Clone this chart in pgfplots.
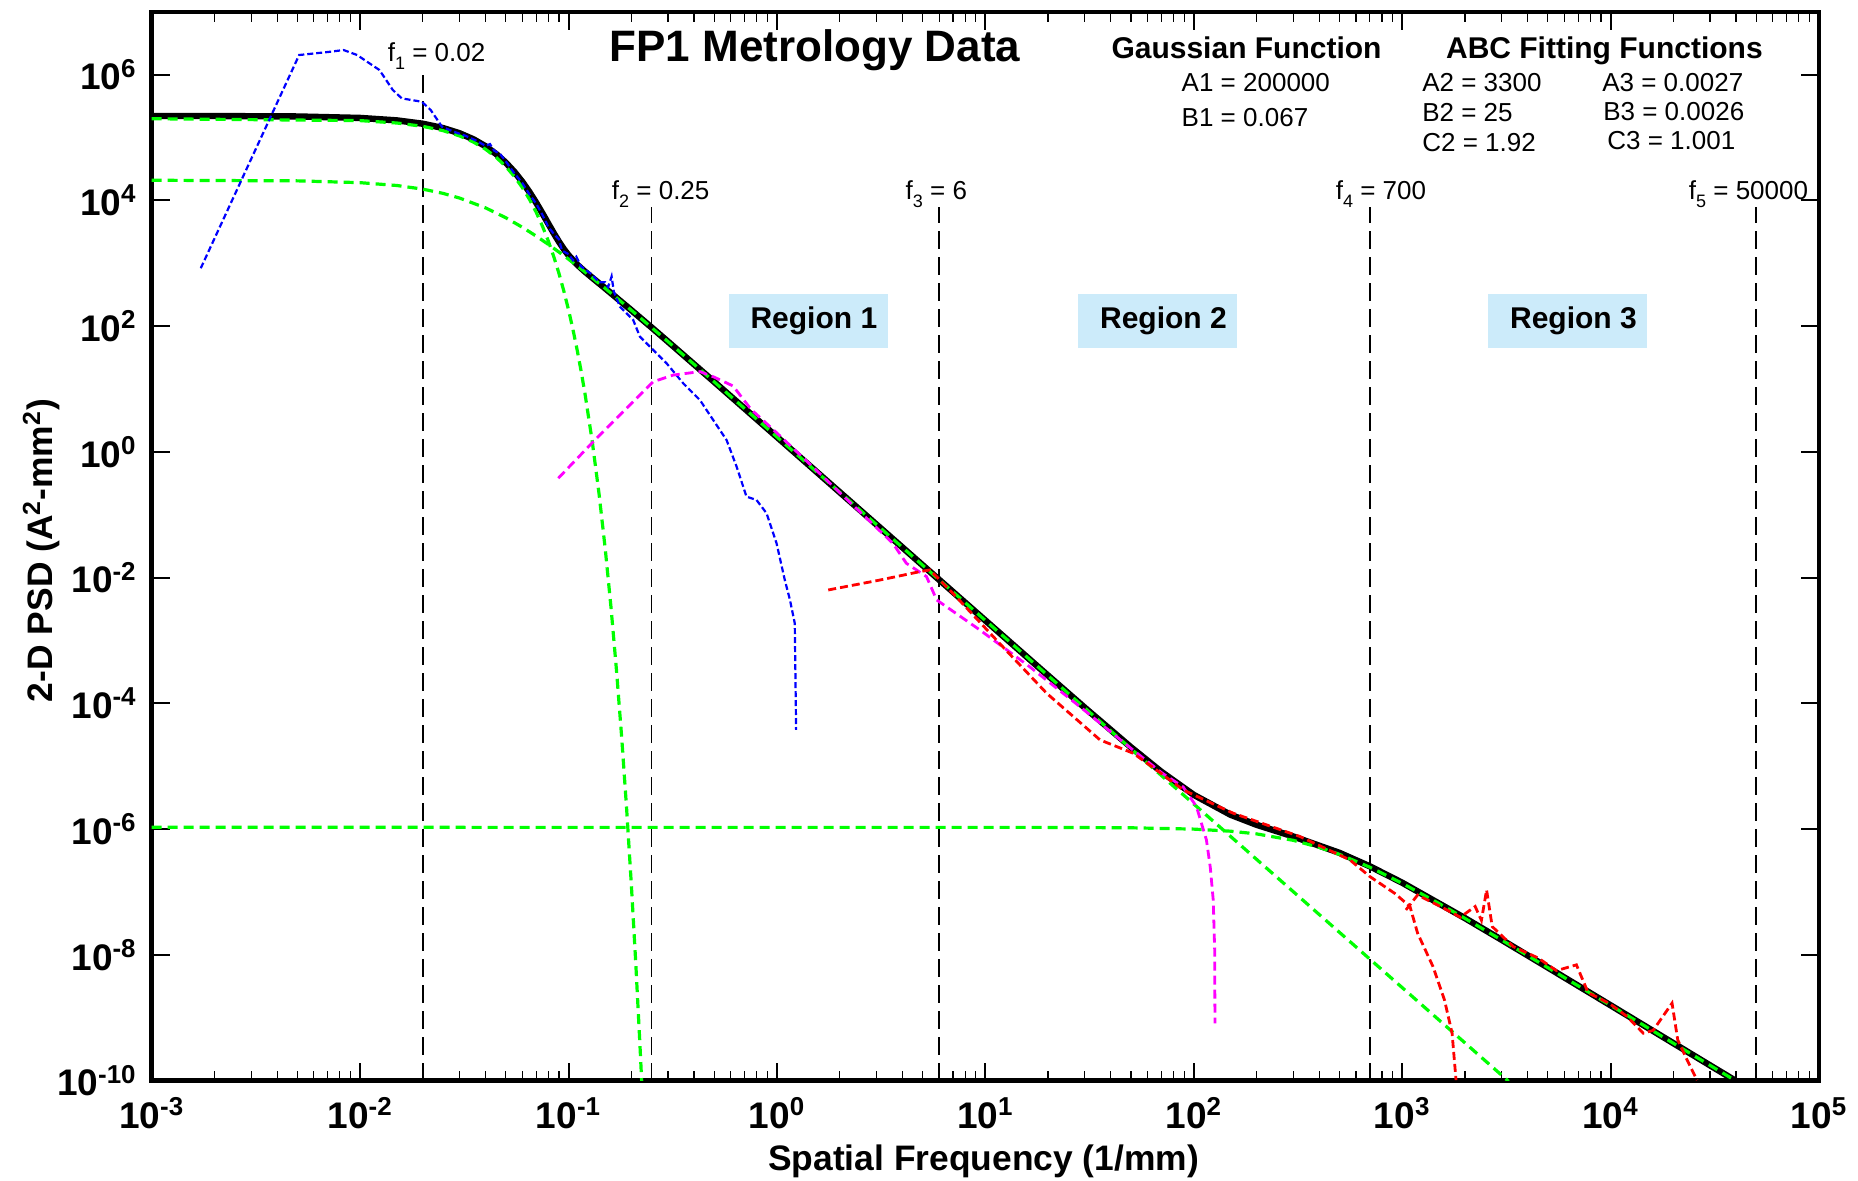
\documentclass[border=0pt]{standalone}
\usepackage{fontspec}
\setmainfont{Liberation Sans}
\usepackage{pgfplots}
\pgfplotsset{compat=1.18}
\definecolor{regbox}{RGB}{204,235,250}
\definecolor{mygreen}{RGB}{0,255,0}
\definecolor{myblue}{RGB}{0,0,255}
\definecolor{mymag}{RGB}{255,0,255}
\definecolor{myred}{RGB}{255,0,0}
\newcommand{\fs}[1]{\fontsize{#1}{#1}\selectfont}
\newcommand{\tl}[1]{10\textsuperscript{#1}}
\begin{document}
\begin{tikzpicture}
\path[use as bounding box] (-75.85pt,-50.15pt) rectangle (853.2pt,540.35pt);
\begin{axis}[
  scale only axis, width=833.7pt, height=534.4pt,
  xmode=log, ymode=log,
  xmin=1e-3, xmax=1e5, ymin=1e-10, ymax=1e7,
  xtick={1e-3,1e-2,1e-1,1,1e1,1e2,1e3,1e4,1e5},
  xticklabels={\tl{-3},\tl{-2},\tl{-1},\tl{0},\tl{1},\tl{2},\tl{3},\tl{4},\tl{5}},
  minor xtick={2e-3,3e-3,4e-3,5e-3,6e-3,7e-3,8e-3,9e-3,
    2e-2,3e-2,4e-2,5e-2,6e-2,7e-2,8e-2,9e-2,
    0.2,0.3,0.4,0.5,0.6,0.7,0.8,0.9,2,3,4,5,6,7,8,9,
    20,30,40,50,60,70,80,90,200,300,400,500,600,700,800,900,
    2000,3000,4000,5000,6000,7000,8000,9000,
    2e4,3e4,4e4,5e4,6e4,7e4,8e4,9e4},
  ytick={1e-10,1e-8,1e-6,1e-4,1e-2,1,1e2,1e4,1e6},
  yticklabels={\tl{-10},\tl{-8},\tl{-6},\tl{-4},\tl{-2},\tl{0},\tl{2},\tl{4},\tl{6}},
  minor ytick={},
  xtick pos=both, ytick pos=both,
  tick align=inside,
  major tick length=9pt, minor tick length=5pt,
  every major tick/.append style={line width=1pt, black},
  every minor tick/.append style={line width=0.6pt, black},
  axis line style={line width=2.2pt},
  ticklabel style={font=\bfseries\fs{18.5}},
  yticklabel style={xshift=-4pt},
  xticklabel style={yshift=-5pt},
  xlabel={\textbf{Spatial Frequency (1/mm)}},
  ylabel={\textbf{2-D PSD (A\textsuperscript{2}-mm\textsuperscript{2})}},
  label style={font=\bfseries\fs{17.7}},
  xlabel style={at={(axis description cs:0.499,-0.0751)}, anchor=center},
  ylabel style={at={(axis description cs:-0.0661,0.496)}, anchor=center},
]
% vertical frequency markers
\addplot[black, line width=0.9pt, dash pattern=on 9pt off 4pt] coordinates {(0.02,1e-10) (0.02,1.15e6)};
\addplot[black, line width=0.9pt, dash pattern=on 9pt off 4pt] coordinates {(0.25,1e-10) (0.25,8e3)};
\addplot[black, line width=0.9pt, dash pattern=on 9pt off 4pt] coordinates {(6,1e-10) (6,8e3)};
\addplot[black, line width=0.9pt, dash pattern=on 9pt off 4pt] coordinates {(700,1e-10) (700,8e3)};
\addplot[black, line width=0.9pt, dash pattern=on 9pt off 4pt] coordinates {(50000,1e-10) (50000,8e3)};
% total fit (black)
\addplot[black, line width=3.2pt] coordinates {
(0.001,2.208e5) (0.002,2.204e5) (0.005,2.171e5) (0.01,2.057e5) (0.015,1.882e5)
(0.02,1.663e5) (0.025,1.421e5) (0.03,1.175e5) (0.035,9.404e4) (0.04,7.293e4)
(0.045,5.483e4) (0.05,4.009e4) (0.055,2.855e4) (0.06,1.987e4) (0.065,1.358e4)
(0.07,9196) (0.075,6228) (0.08,4274) (0.085,3010) (0.09,2203) (0.095,1685)
(0.1,1347) (0.11,955.5) (0.12,736.6) (0.13,590.6) (0.15,400.4) (0.2,180.4)
(0.25,95.99) (0.3,57.0) (0.5,13.04) (1,1.734) (2,0.2296) (5,0.01582)
(10,2.091e-3) (20,2.773e-4) (30,8.56e-5) (50,2.007e-5) (70,8.156e-6)
(100,3.514e-6) (150,1.698e-6) (200,1.174e-6) (300,7.664e-7) (500,4.204e-7)
(700,2.565e-7) (1000,1.408e-7) (2000,3.849e-8) (3000,1.739e-8) (5000,6.303e-9)
(10000,1.579e-9) (20000,3.945e-10) (30000,1.751e-10) (40000,9.85e-11)};
% Gaussian (green)
\addplot[mygreen, line width=1.6pt, dash pattern=on 5pt off 3pt] coordinates {
(0.001,1.9976e5) (0.01,1.865e5) (0.015,1.708e5) (0.02,1.511e5) (0.025,1.291e5)
(0.03,1.065e5) (0.035,8.487e4) (0.04,6.528e4) (0.045,4.85e4) (0.05,3.477e4)
(0.055,2.408e4) (0.06,1.611e4) (0.065,1.04e4) (0.07,6485) (0.075,3905)
(0.08,2271) (0.085,1275) (0.09,690.9) (0.095,361.6) (0.1,182.8) (0.105,89.22)
(0.11,42.06) (0.115,19.14) (0.12,8.411) (0.13,1.463) (0.14,0.2211) (0.15,0.02905)
(0.16,3.32e-3) (0.17,3.298e-4) (0.18,2.849e-5) (0.19,2.140e-6) (0.2,1.396e-7)
(0.21,7.925e-9) (0.22,3.91e-10) (0.225,8.24e-11)};
% ABC2 (green)
\addplot[mygreen, line width=1.6pt, dash pattern=on 5pt off 3pt] coordinates {
(0.001,2.098e4) (0.005,2.053e4) (0.01,1.922e4) (0.015,1.733e4) (0.02,1.516e4)
(0.025,1.298e4) (0.03,1.094e4) (0.04,7632) (0.05,5316) (0.06,3757) (0.07,2713)
(0.08,2003) (0.09,1512) (0.1,1165) (0.12,728.2) (0.15,400.4) (0.2,180.4)
(0.3,57.0) (0.5,13.04) (1,1.734) (10,2.091e-3) (100,2.513e-6) (1000,3.021e-9)
(3240,9.76e-11)};
% ABC3 (green)
\addplot[mygreen, line width=1.6pt, dash pattern=on 5pt off 3pt] coordinates {
(0.001,1.07e-6) (20,1.067e-6) (50,1.052e-6) (100,1.002e-6) (150,9.29e-7)
(200,8.42e-7) (300,6.65e-7) (400,5.14e-7) (500,3.977e-7) (700,2.48e-7)
(1000,1.377e-7) (1500,6.592e-8) (2000,3.809e-8) (3000,1.727e-8) (5000,6.276e-9)
(10000,1.576e-9) (20000,3.94e-10) (40000,9.85e-11)};
% measured data 1 (blue)
\addplot[myblue, line width=1.1pt, dash pattern=on 3pt off 1.5pt] coordinates {
(1.72e-3,836) (5.10e-3,2.06e6) (7.0e-3,2.3e6) (8.34e-3,2.47e6) (9.68e-3,2.06e6)
(0.01238,1.19e6) (0.01435,5.73e5) (0.01585,4.21e5) (0.01978,3.72e5)
(0.02182,2.75e5) (0.02471,1.49e5) (0.028,1.25e5) (0.032,1.07e5) (0.036,9.0e4)
(0.040,7.4e4) (0.042,7.9e4) (0.044,6.2e4) (0.047,5.5e4) (0.050,4.2e4)
(0.055,2.7e4) (0.060,1.9e4) (0.065,1.25e4) (0.070,8.9e3) (0.075,5.9e3)
(0.080,3.8e3) (0.085,2.95e3) (0.090,2.4e3) (0.093,1.6e3) (0.100,1.4e3)
(0.105,1.12e3) (0.109,1.28e3) (0.115,890) (0.120,800) (0.130,660) (0.140,500)
(0.150,500) (0.155,420) (0.161,620) (0.165,355) (0.1765,205) (0.2043,126)
(0.2201,68.2) (0.255,41.8) (0.2956,25.7) (0.3549,12.4) (0.4272,6.70)
(0.4943,3.23) (0.5732,1.55) (0.6405,0.585) (0.7145,0.195) (0.798,0.1726)
(0.892,0.1057) (0.996,0.0352) (1.091,9.18e-3) (1.155,4.43e-3) (1.218,1.88e-3)
(1.236,3.8e-5)};
% measured data 2 (magenta)
\addplot[mymag, line width=1.4pt, dash pattern=on 4.5pt off 2.5pt] coordinates {
(0.0893,0.382) (0.1315,1.459) (0.255,13.12) (0.318,16.71) (0.4272,18.97)
(0.5,15.5) (0.616,11.2) (0.75,4.79) (1.0,2.0) (1.5,0.562) (2.5,0.112)
(3.6,0.0352) (4.18,0.01694) (5.22,0.01042) (5.84,4.43e-3) (9.4,1.479e-3)
(16.3,3.846e-4) (28.4,8.91e-5) (49.3,2.0e-5) (70,7.94e-6) (89,4.68e-6)
(103,2.29e-6) (115,6.76e-7) (120,2.5e-7) (124,7.5e-8) (126,1.2e-8)
(126.4,8.17e-10)};
% measured data 3 (red)
\addplot[myred, line width=1.4pt, dash pattern=on 4pt off 2pt] coordinates {
(1.763,6.38e-3) (3.12,9.18e-3) (4.86,0.0125) (5.42,0.01327) (7.0,5.62e-3)
(11.3,1.021e-3) (19.7,1.449e-4) (35.5,2.63e-5) (51.2,1.614e-5) (66.2,8.75e-6)
(89,4.21e-6) (154.5,1.795e-6) (323,7.64e-7) (561,3.25e-7) (700,1.762e-7)
(920,9.55e-8) (1090,5.89e-8) (1186,2.213e-8) (1406,6.5e-9) (1596,1.919e-9)
(1736,5.68e-10) (1813,1.02e-10)};
% measured data 4 (red)
\addplot[myred, line width=1.4pt, dash pattern=on 4pt off 2pt] coordinates {
(1042,5.19e-8) (1186,8.97e-8) (1528,5.89e-8) (1900,3.98e-8) (2240,5.89e-8)
(2400,3.55e-8) (2541,1.079e-7) (2704,2.825e-8) (3412,1.355e-8) (4500,8.91e-9)
(5500,5.62e-9) (6855,6.95e-9) (7800,2.51e-9) (9817,1.706e-9) (12000,1.047e-9)
(14360,5.68e-10) (16000,6.3e-10) (19720,1.706e-9) (21000,4.45e-10)
(23500,2.0e-10) (26000,1.02e-10)};
\end{axis}
% title and annotations
\node[font=\bfseries\fs{22}] at (331.65pt,515.45pt) {FP1 Metrology Data};
\node[font=\bfseries\fs{15}] at (547.45pt,516.65pt) {Gaussian Function};
\node[font=\bfseries\fs{15}] at (726.4pt,514.85pt) {ABC Fitting Functions};
\node[anchor=west, inner sep=0pt, font=\fs{13}] at (514.85pt,498.85pt) {A1 = 200000};
\node[anchor=west, inner sep=0pt, font=\fs{13}] at (514.85pt,481.7pt) {B1 = 0.067};
\node[anchor=west, inner sep=0pt, font=\fs{13}] at (635.15pt,498.85pt) {A2 = 3300};
\node[anchor=west, inner sep=0pt, font=\fs{13}] at (635.15pt,484.05pt) {B2 = 25};
\node[anchor=west, inner sep=0pt, font=\fs{13}] at (635.15pt,469.25pt) {C2 = 1.92};
\node[anchor=west, inner sep=0pt, font=\fs{13}] at (725.15pt,498.85pt) {A3 = 0.0027};
\node[anchor=west, inner sep=0pt, font=\fs{13}] at (725.65pt,484.65pt) {B3 = 0.0026};
\node[anchor=west, inner sep=0pt, font=\fs{13}] at (727.65pt,469.85pt) {C3 = 1.001};
% frequency labels
\node[anchor=base west, inner sep=0pt, font=\fs{13}] at (117.9pt,509.5pt) {f\raisebox{-0.55ex}{\fs{9}1} = 0.02};
\node[anchor=base west, inner sep=0pt, font=\fs{13}] at (229.95pt,440.35pt) {f\raisebox{-0.55ex}{\fs{9}2} = 0.25};
\node[anchor=base west, inner sep=0pt, font=\fs{13}] at (376.8pt,440.35pt) {f\raisebox{-0.55ex}{\fs{9}3} = 6};
\node[anchor=base west, inner sep=0pt, font=\fs{13}] at (591.9pt,440.35pt) {f\raisebox{-0.55ex}{\fs{9}4} = 700};
\node[anchor=base west, inner sep=0pt, font=\fs{13}] at (768.45pt,440.35pt) {f\raisebox{-0.55ex}{\fs{9}5} = 50000};
% region boxes
\fill[regbox] (288.55pt,366.15pt) rectangle (367.95pt,393.4pt);
\node[anchor=west, inner sep=0pt, font=\bfseries\fs{15}] at (299.25pt,379.8pt) {Region 1};
\fill[regbox] (463.35pt,366.15pt) rectangle (542.7pt,393.4pt);
\node[anchor=west, inner sep=0pt, font=\bfseries\fs{15}] at (474.05pt,379.8pt) {Region 2};
\fill[regbox] (668.35pt,366.15pt) rectangle (747.75pt,393.4pt);
\node[anchor=west, inner sep=0pt, font=\bfseries\fs{15}] at (679.05pt,379.8pt) {Region 3};
\end{tikzpicture}
\end{document}
